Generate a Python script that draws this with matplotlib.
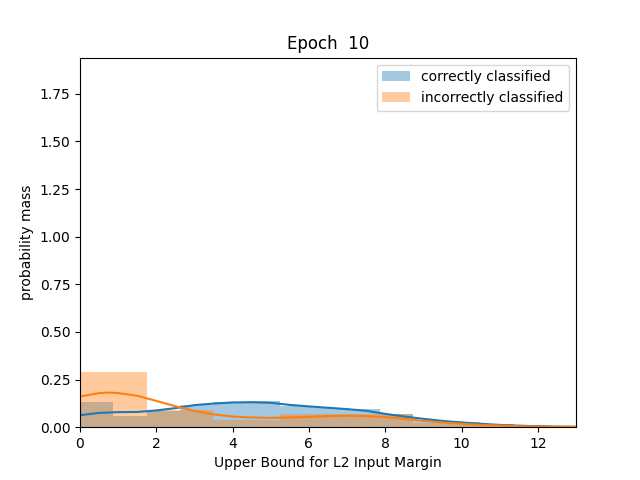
import numpy as np
import matplotlib
matplotlib.use("Agg")
import matplotlib.pyplot as plt

# Histogram data (bin edges and normalized heights)
blue_edges = [0.0, 0.874, 1.748, 2.622, 3.496, 4.37, 5.244, 6.118, 6.992, 7.866, 8.74, 9.614, 10.488, 11.362, 12.236, 13.11]
blue_heights = [0.133, 0.058, 0.085, 0.116, 0.131, 0.135, 0.110, 0.103, 0.093, 0.068, 0.037, 0.028, 0.019, 0.010, 0.005]
orange_edges = [0.0, 1.748, 3.496, 5.244, 6.992, 8.74, 10.488, 12.236]
orange_heights = [0.289, 0.089, 0.037, 0.068, 0.068, 0.020, 0.005]

# KDE curves
kde_x_blue = [0, 0.5, 1, 1.5, 2, 2.5, 3, 3.5, 4, 4.5, 5, 5.5, 6, 6.5, 7, 7.5, 8, 8.5, 9, 9.5, 10, 10.5, 11, 11.5, 12, 12.5, 13]
kde_y_blue = [0.063, 0.075, 0.079, 0.080, 0.088, 0.100, 0.116, 0.124, 0.130, 0.131, 0.128, 0.117, 0.109, 0.102, 0.095, 0.086, 0.070, 0.056, 0.044, 0.033, 0.025, 0.018, 0.012, 0.008, 0.005, 0.003, 0.002]
kde_x_orange = [0, 0.5, 0.75, 1, 1.5, 2, 2.5, 3, 3.5, 4, 4.5, 5, 5.5, 6, 6.5, 7, 7.5, 8, 8.5, 9, 9.5, 10, 10.5, 11, 11.5, 12, 13]
kde_y_orange = [0.161, 0.179, 0.182, 0.179, 0.165, 0.138, 0.110, 0.086, 0.067, 0.056, 0.051, 0.049, 0.051, 0.054, 0.058, 0.060, 0.058, 0.053, 0.044, 0.033, 0.025, 0.018, 0.012, 0.009, 0.005, 0.003, 0.002]

fig, ax = plt.subplots(figsize=(6.4, 4.8), dpi=100)

be = np.array(blue_edges)
ax.bar(be[:-1], blue_heights, width=np.diff(be), align='edge', color='C0', alpha=0.4,
       label='correctly classified', linewidth=0)
oe = np.array(orange_edges)
ax.bar(oe[:-1], orange_heights, width=np.diff(oe), align='edge', color='C1', alpha=0.4,
       label='incorrectly classified', linewidth=0)

ax.plot(kde_x_blue, kde_y_blue, color='C0', lw=1.5)
ax.plot(kde_x_orange, kde_y_orange, color='C1', lw=1.5)

ax.set_xlim(0, 13)
ax.set_ylim(0, 1.94)
ax.set_xlabel('Upper Bound for L2 Input Margin')
ax.set_ylabel('probability mass')
ax.set_title('Epoch  10')
ax.legend(loc='upper right')

fig.savefig('out.png', dpi=100)
